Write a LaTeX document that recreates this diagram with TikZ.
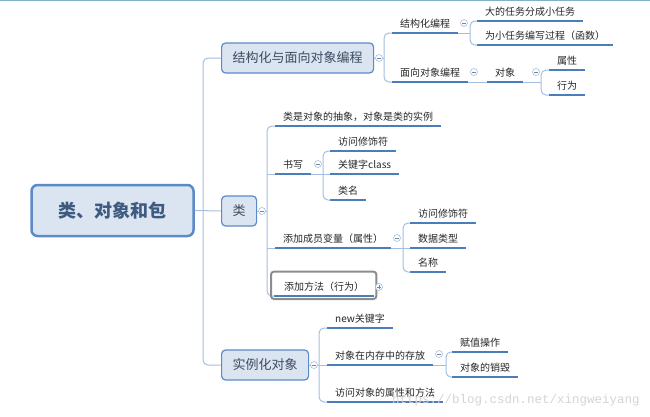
\documentclass[tikz,border=0pt]{standalone}
\usepackage{fontspec}
\setmainfont{Noto Sans CJK SC}
\newfontfamily\wmfont{Liberation Mono}

\definecolor{boxfill}{HTML}{DBE5F1}
\definecolor{boxline}{HTML}{5B8AC6}
\definecolor{connline}{HTML}{A3BEE0}
\definecolor{ulblue}{HTML}{4A7EBB}
\definecolor{topictext}{HTML}{3B4B60}
\definecolor{roottext}{HTML}{3E5A80}
\definecolor{topline}{HTML}{7DB3C8}

\tikzset{
  rootbox/.style={draw=boxline, line width=2.5pt, fill=boxfill, rounded corners=6pt,
    minimum width=162pt, minimum height=51pt, text=roottext,
    font=\fontsize{18}{20}\selectfont\bfseries},
  topicbox/.style={draw=boxline, line width=1.2pt, fill=boxfill, rounded corners=4pt,
    minimum height=30pt, inner xsep=11pt, anchor=west, text=topictext,
    font=\fontsize{13}{15}\selectfont},
  leaf/.style={anchor=south west, inner xsep=8pt, inner ysep=3pt, text height=8pt,
    text depth=2pt, text=black!85, font=\fontsize{10}{12}\selectfont},
  uline/.style={draw=ulblue, line width=2pt},
  conn/.style={draw=connline, line width=1pt, rounded corners=5pt},
  fold/.style={circle, draw=connline, fill=white, line width=0.6pt, inner sep=0pt,
    minimum size=7pt, path picture={
      \draw[connline!70!black, line width=0.6pt]
        ([xshift=-2pt]path picture bounding box.center) -- ([xshift=2pt]path picture bounding box.center);}},
  unfold/.style={circle, draw=connline, fill=white, line width=0.6pt, inner sep=0pt,
    minimum size=7pt, path picture={
      \draw[connline!70!black, line width=0.6pt]
        ([xshift=-2pt]path picture bounding box.center) -- ([xshift=2pt]path picture bounding box.center)
        ([yshift=-2pt]path picture bounding box.center) -- ([yshift=2pt]path picture bounding box.center);}},
  selbox/.style={draw=black!45, line width=2pt, rounded corners=3pt},
  wm/.style={text=black!17, font=\wmfont\fontsize{12.5}{14}\selectfont}
}

\begin{document}
\begin{tikzpicture}[x=1pt,y=-1pt]
\useasboundingbox (0,0) rectangle (650,416);
\draw[topline, line width=1pt] (0,0.5) -- (650,0.5);

% root and main topics
\node[rootbox] (root) at (112.5,210.5) {类、对象和包};
\node[topicbox] (jgh) at (221,58) {结构化与面向对象编程};
\node[topicbox] (lei) at (221,211) {类};
\node[topicbox] (slh) at (221,365) {实例化对象};

% leaves
\node[leaf] (jg) at (392,33) {结构化编程};
\node[leaf] (dr) at (477,21) {大的任务分成小任务};
\node[leaf] (wx) at (477,45) {为小任务编写过程（函数）};
\node[leaf] (mx) at (392,82) {面向对象编程};
\node[leaf] (dx) at (487,82) {对象};
\node[leaf] (sx) at (549,70) {属性};
\node[leaf] (xw) at (549,95) {行为};

\node[leaf] (cx) at (275,126) {类是对象的抽象，对象是类的实例};
\node[leaf] (sh) at (275,174) {书写};
\node[leaf] (fw) at (330,151) {访问修饰符};
\node[leaf] (gj) at (330,174) {关键字class};
\node[leaf] (lm) at (330,200) {类名};
\node[leaf] (cy) at (275,248) {添加成员变量（属性）};
\node[leaf] (fwb) at (410,223) {访问修饰符};
\node[leaf] (sj) at (410,248) {数据类型};
\node[leaf] (mc) at (410,272) {名称};
\node[leaf, inner xsep=10pt] (fm) at (274,296) {添加方法（行为）};

\node[leaf] (nw) at (327,328) {new关键字};
\node[leaf] (nc) at (327,365) {对象在内存中的存放};
\node[leaf] (fz) at (452,352) {赋值操作};
\node[leaf] (xh) at (452,377) {对象的销毁};
\node[leaf] (fs) at (327,402) {访问对象的属性和方法};

\foreach \n in {jg,dr,wx,mx,dx,sx,xw,cx,sh,fw,gj,lm,cy,fwb,sj,mc,fm,nw,nc,fz,xh,fs}
  \draw[uline] (\n.south west) -- (\n.south east);

% branch points
\coordinate (trunk) at (203,211);
\coordinate (b1) at (384,58);
\coordinate (b2) at (470,33);
\coordinate (b4) at (541,82);
\coordinate (b5) at (267,211);
\coordinate (b6) at (323,174);
\coordinate (b7) at (403,248);
\coordinate (b9) at (319,365);
\coordinate (b10) at (446,365);

% connectors
\draw[conn] (root.east) -- (lei.west);
\draw[conn] (jgh.west) -| (trunk) |- (slh.west);

\draw[conn] (jgh.east) -- (b1);
\draw[conn] (jg.south west) -| (b1) |- (mx.south west);
\draw[conn] (jg.south east) -- (b2);
\draw[conn] (dr.south west) -| (b2) |- (wx.south west);
\draw[conn] (mx.south east) -- (dx.south west);
\draw[conn] (dx.south east) -- (b4);
\draw[conn] (sx.south west) -| (b4) |- (xw.south west);

\draw[conn] (lei.east) -- (b5);
\draw[conn] (cx.south west) -| (b5) |- (fm.south west);
\draw[conn] (b5 |- sh.south west) -- (sh.south west);
\draw[conn] (b5 |- cy.south west) -- (cy.south west);
\draw[conn] (sh.south east) -- (gj.south west);
\draw[conn] (fw.south west) -| (b6) |- (lm.south west);
\draw[conn] (cy.south east) -- (sj.south west);
\draw[conn] (fwb.south west) -| (b7) |- (mc.south west);

\draw[conn] (slh.east) -- (nc.south west);
\draw[conn] (nw.south west) -| (b9) |- (fs.south west);
\draw[conn] (nc.south east) -- (b10);
\draw[conn] (fz.south west) -| (b10) |- (xh.south west);

\draw[selbox] ([xshift=-3pt,yshift=-3pt]fm.south west) rectangle ([xshift=2pt,yshift=8pt]fm.north east);

% fold markers
\node[fold] (f1) at (379,58) {};
\node[fold] (f2) at (464,23) {};
\node[fold] (f3) at (474,72) {};
\node[fold] (f4) at (536,72) {};
\node[fold] (f5) at (262,211) {};
\node[fold] (f6) at (318,164) {};
\node[fold] (f7) at (397,238) {};
\node[unfold] (f8) at (379,287) {};
\node[fold] (f9) at (314,365) {};
\node[fold] (f10) at (439,354) {};

\node[wm] (mark) at (516,400) {https://blog.csdn.net/xingweiyang};
\end{tikzpicture}
\end{document}
